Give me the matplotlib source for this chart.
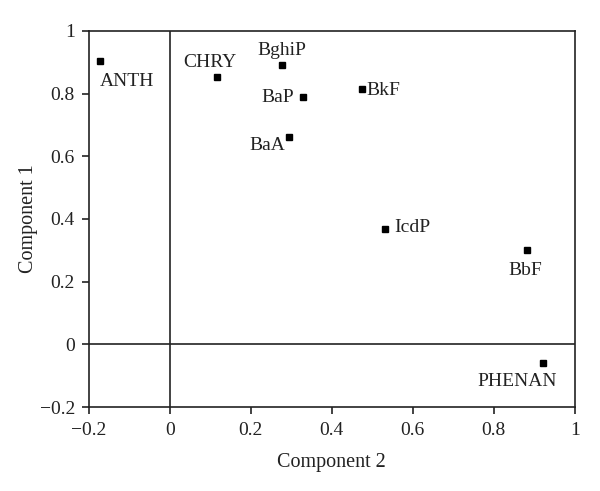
import matplotlib
matplotlib.use("Agg")
import matplotlib.pyplot as plt

plt.rcParams["font.family"] = ["Liberation Serif", "DejaVu Serif"]

# loadings
compounds = ["ANTH", "CHRY", "BghiP", "BaP", "BaA", "BkF", "IcdP", "BbF", "PHENAN"]
comp2 = [-0.173, 0.116, 0.277, 0.328, 0.294, 0.474, 0.531, 0.881, 0.921]
comp1 = [0.904, 0.853, 0.891, 0.789, 0.661, 0.815, 0.367, 0.300, -0.061]

# label offsets in pixels (dx, dy, ha, va)
label_pos = {
    "ANTH":   (0, -20, "left", "center"),
    "CHRY":   (-7, 15, "center", "center"),
    "BghiP":  (0, 15, "center", "center"),
    "BaP":    (-9, 0, "right", "center"),
    "BaA":    (-4, -8, "right", "center"),
    "BkF":    (5, -2, "left", "center"),
    "IcdP":   (9, 2, "left", "center"),
    "BbF":    (-1, -20, "center", "center"),
    "PHENAN": (14, -18, "right", "center"),
}

TXT = "#222222"
FS = 14

fig = plt.figure(figsize=(6.0, 4.91), dpi=100)
ax = fig.add_axes([0.148, 0.171, 0.81, 0.766])

ax.plot(comp2, comp1, "s", color="black", markersize=4.2, linestyle="none")
for name, x, y in zip(compounds, comp2, comp1):
    dx, dy, ha, va = label_pos[name]
    ax.annotate(name, (x, y), xytext=(dx, dy), textcoords="offset pixels",
                ha=ha, va=va, fontsize=FS, color=TXT)

ax.axhline(0, color=TXT, linewidth=1.2)
ax.axvline(0, color=TXT, linewidth=1.2)

ax.set_xlim(-0.2, 1)
ax.set_ylim(-0.2, 1)
ticks = [-0.2, 0, 0.2, 0.4, 0.6, 0.8, 1]
labels = ["\u22120.2", "0", "0.2", "0.4", "0.6", "0.8", "1"]
ax.set_xticks(ticks)
ax.set_xticklabels(labels)
ax.set_yticks(ticks)
ax.set_yticklabels(labels)
ax.tick_params(direction="out", length=5, width=1.2, labelsize=FS,
               colors=TXT)
ax.tick_params(axis="x", pad=6)
ax.tick_params(axis="y", pad=5)
ax.tick_params(top=False, right=False)
for s in ax.spines.values():
    s.set_linewidth(1.2)
    s.set_color(TXT)

ax.set_xlabel("Component 2", fontsize=FS + 0.5, color=TXT, labelpad=10)
ax.set_ylabel("Component 1", fontsize=FS + 0.5, color=TXT, labelpad=1)

fig.savefig("out.png", dpi=100)
